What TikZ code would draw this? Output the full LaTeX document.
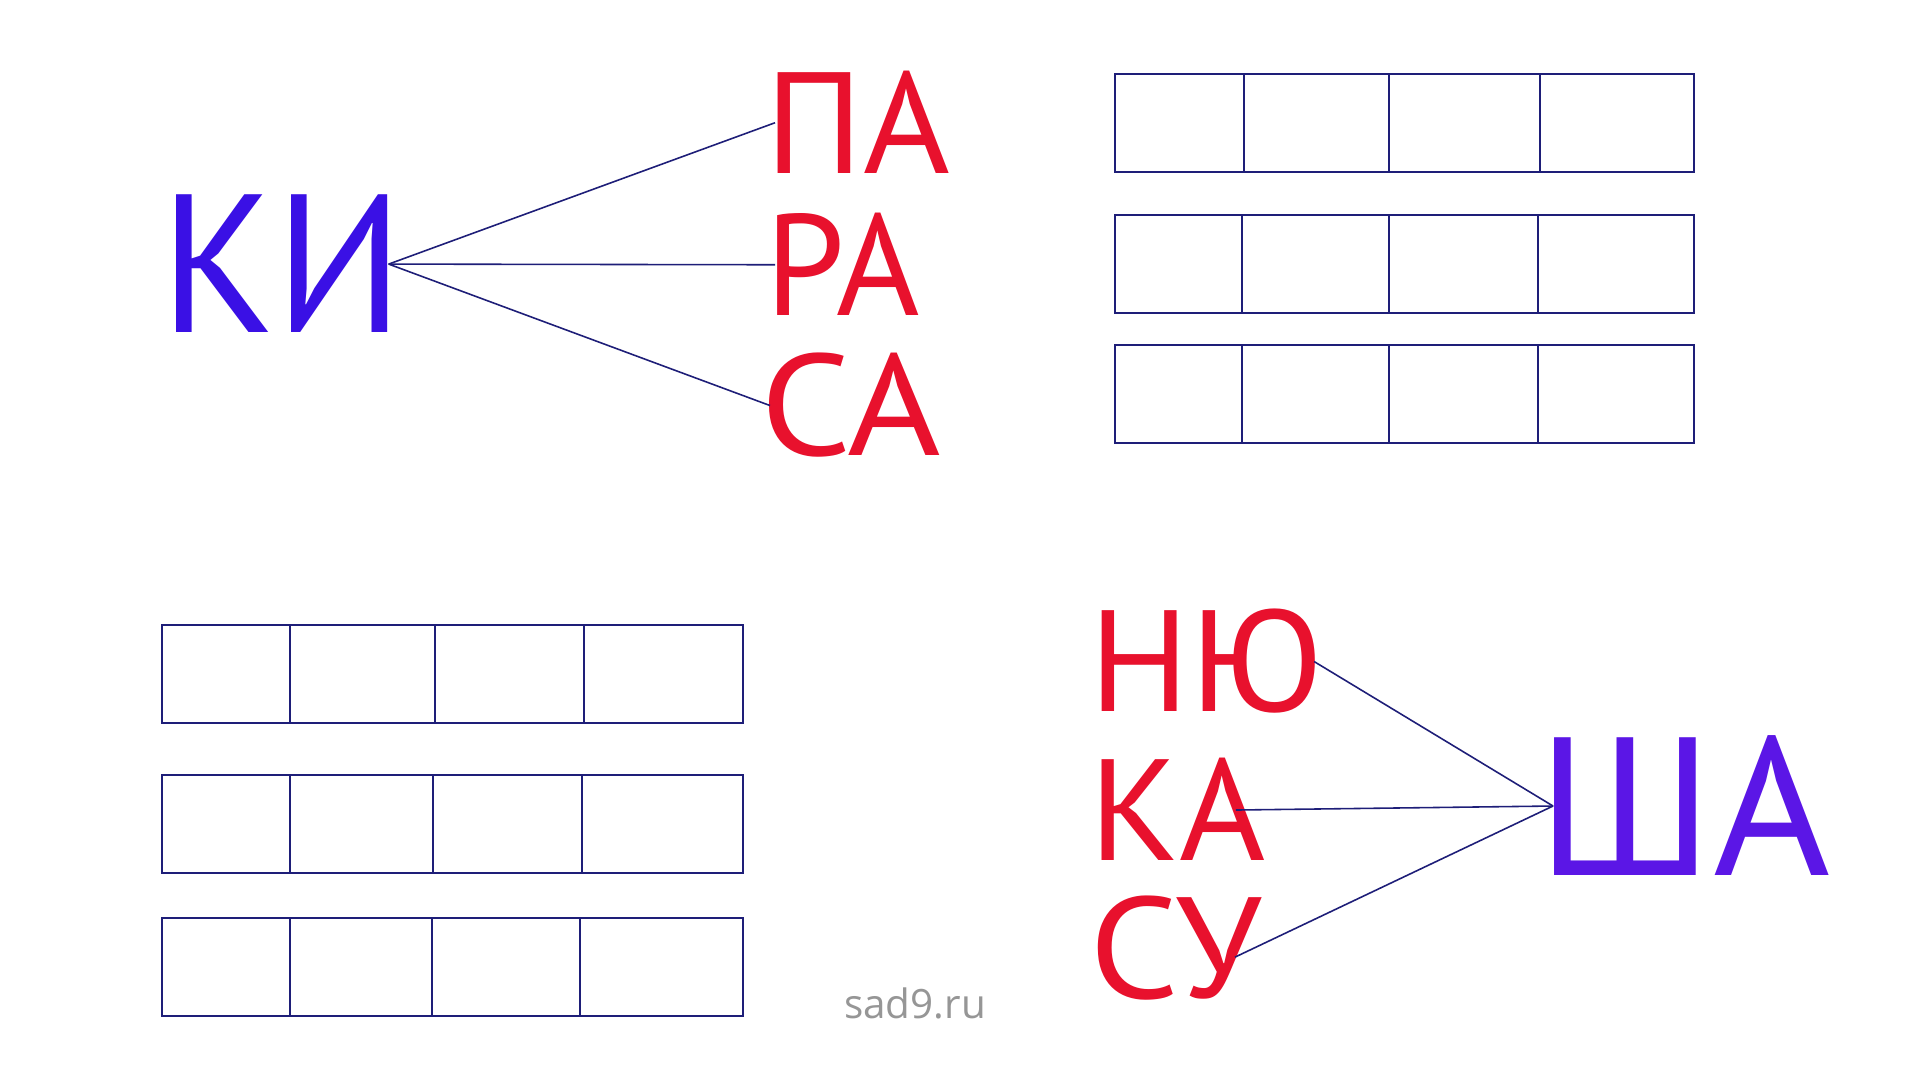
\documentclass[tikz,border=0pt]{standalone}
\usepackage{fontspec}
\setmainfont{PT Sans}
\newfontfamily\sitefont{Open Sans}
\usetikzlibrary{positioning}

\definecolor{kiblue}{RGB}{58,16,229}
\definecolor{shaviolet}{RGB}{91,22,230}
\definecolor{sylred}{RGB}{232,17,45}
\definecolor{linenavy}{RGB}{30,30,120}
\definecolor{sitegray}{RGB}{150,150,150}

\begin{document}
\begin{tikzpicture}[big/.style={anchor=base west,inner ysep=0pt,inner xsep=-4.5pt,font=\fontsize{56}{60}\selectfont},
  syl/.style={anchor=base west,inner ysep=0pt,inner xsep=-2.8pt,text=sylred,font=\fontsize{41}{44}\selectfont},
  cell/.style={draw=linenavy,line width=0.6pt},
  link/.style={draw=linenavy,line width=0.45pt}]
  \useasboundingbox[fill=white] (0,0) rectangle (19.2,10.8);

  % first fan
  \node[big,text=kiblue] (ki) at (1.76,7.47) {\scalebox{0.956}[1]{КИ}};
  \node[syl] (pa) at (7.75,9.06) {\scalebox{1.03}[1]{ПА}};
  \node[syl] (ra) at (7.75,7.64) {\scalebox{0.99}[1]{РА}};
  \node[syl] (sa) at (7.70,6.24) {\scalebox{1.11}[1]{СА}};
  \draw[link] (ki.east) -- (pa.west);
  \draw[link] (ki.east) -- (ra.west);
  \draw[link] (ki.east) -- (sa.west);

  % second fan
  \node[syl] (nyu) at (10.99,3.68) {\scalebox{1.035}[1]{НЮ}};
  \node[syl] (ka) at (10.99,2.19) {\scalebox{1.023}[1]{КА}};
  \node[syl] (su) at (10.99,0.81) {\scalebox{1.09}[1]{СУ}};
  \node[big,text=shaviolet] (sha) at (15.53,2.04) {\scalebox{1.018}[1]{ША}};
  \draw[link] (nyu.east) -- (sha.west);
  \draw[link,shorten <=-0.21cm] (ka.east) -- (sha.west);
  \draw[link,shorten <=-0.2cm] (su.east) -- (sha.west);

  % cells, top right
  \foreach \yt/\a/\b/\c in {10.06/12.44/13.89/15.40,8.65/12.42/13.89/15.38,7.35/12.42/13.89/15.38}{
    \draw[cell] (11.15,\yt) rectangle (16.94,\yt-0.98);
    \draw[cell] (\a,\yt) -- (\a,\yt-0.98) (\b,\yt) -- (\b,\yt-0.98) (\c,\yt) -- (\c,\yt-0.98);
  }
  % cells, bottom left
  \foreach \yt/\a/\b/\c in {4.55/2.90/4.35/5.84,3.05/2.90/4.33/5.82,1.62/2.90/4.32/5.80}{
    \draw[cell] (1.62,\yt) rectangle (7.43,\yt-0.98);
    \draw[cell] (\a,\yt) -- (\a,\yt-0.98) (\b,\yt) -- (\b,\yt-0.98) (\c,\yt) -- (\c,\yt-0.98);
  }

  \node[anchor=base,inner sep=0pt,text=sitegray,font=\sitefont\fontsize{11.5}{13}\selectfont] (site) at (9.15,0.61) {sad9.ru};
\end{tikzpicture}
\end{document}
